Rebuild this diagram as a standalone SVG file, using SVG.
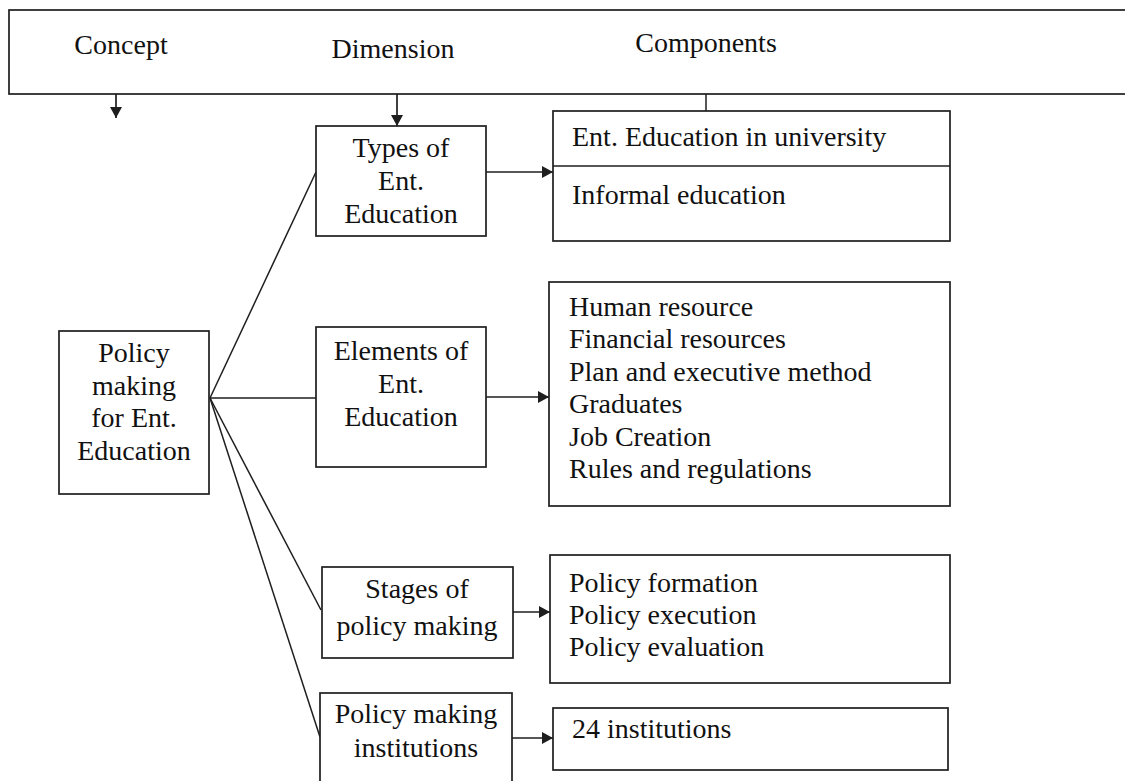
<svg xmlns="http://www.w3.org/2000/svg" width="1125" height="781" viewBox="0 0 1125 781">
<style>
  .box { fill: #ffffff; stroke: #1e1e1e; stroke-width: 1.7; }
  .ln { fill: none; stroke: #1e1e1e; stroke-width: 1.5; }
  .arr { fill: none; stroke: #1e1e1e; stroke-width: 1.7; marker-end: url(#ah); }
  text { font-family: "Liberation Serif", "Times New Roman", serif; font-size: 28px; fill: #111; }
  .c { text-anchor: middle; }
</style>
<defs>
  <marker id="ah" markerUnits="userSpaceOnUse" markerWidth="11" markerHeight="12" refX="11" refY="6" orient="auto">
    <path d="M0,0 L11,6 L0,12 z" fill="#1e1e1e"/>
  </marker>
</defs>
<rect width="1125" height="781" fill="#ffffff"/>

<g id="header">
  <rect class="box" x="9" y="10" width="1130" height="84"/>
  <text x="121" y="54" class="c">Concept</text>
  <text x="393" y="58" class="c">Dimension</text>
  <text x="706" y="52" class="c">Components</text>
</g>

<g id="connectors">
  <line class="arr" x1="116" y1="94" x2="116" y2="118"/>
  <line class="arr" x1="397" y1="94" x2="397" y2="126"/>
  <line class="ln" x1="706" y1="94" x2="706" y2="111"/>
  <line class="ln" x1="210" y1="398" x2="316" y2="172"/>
  <line class="ln" x1="210" y1="398" x2="316" y2="398"/>
  <line class="ln" x1="210" y1="398" x2="321" y2="610"/>
  <line class="ln" x1="210" y1="398" x2="320" y2="737"/>
  <line class="arr" x1="486" y1="172" x2="553" y2="172"/>
  <line class="arr" x1="486" y1="397" x2="549" y2="397"/>
  <line class="arr" x1="513" y1="612" x2="550" y2="612"/>
  <line class="arr" x1="512" y1="738" x2="553" y2="738"/>
</g>

<g id="policy">
  <rect class="box" x="59" y="331" width="150" height="163"/>
  <text x="134" y="362" class="c">Policy</text>
  <text x="134" y="394.5" class="c">making</text>
  <text x="134" y="427" class="c">for Ent.</text>
  <text x="134" y="459.5" class="c">Education</text>
</g>

<g id="types">
  <rect class="box" x="316" y="126" width="170" height="110"/>
  <text x="401" y="157" class="c">Types of</text>
  <text x="401" y="190" class="c">Ent.</text>
  <text x="401" y="223" class="c">Education</text>
</g>

<g id="elements">
  <rect class="box" x="316" y="327" width="170" height="140"/>
  <text x="401" y="360" class="c">Elements of</text>
  <text x="401" y="393" class="c">Ent.</text>
  <text x="401" y="426" class="c">Education</text>
</g>

<g id="stages">
  <rect class="box" x="322" y="567" width="191" height="91"/>
  <text x="417" y="598" class="c">Stages of</text>
  <text x="417" y="635" class="c">policy making</text>
</g>

<g id="institutions">
  <rect class="box" x="320" y="693" width="192" height="100"/>
  <text x="416" y="723" class="c">Policy making</text>
  <text x="416" y="757" class="c">institutions</text>
</g>

<g id="types-components">
  <rect class="box" x="553" y="111" width="397" height="130"/>
  <line class="ln" x1="553" y1="166" x2="950" y2="166"/>
  <text x="572" y="146">Ent. Education in university</text>
  <text x="572" y="204">Informal education</text>
</g>

<g id="elements-components">
  <rect class="box" x="549" y="282" width="401" height="224"/>
  <text x="569" y="315.5">Human resource</text>
  <text x="569" y="348">Financial  resources</text>
  <text x="569" y="380.5">Plan and executive method</text>
  <text x="569" y="413">Graduates</text>
  <text x="569" y="445.5">Job Creation</text>
  <text x="569" y="478">Rules and regulations</text>
</g>

<g id="stages-components">
  <rect class="box" x="550" y="555" width="400" height="128"/>
  <text x="569" y="592">Policy formation</text>
  <text x="569" y="624">Policy execution</text>
  <text x="569" y="656">Policy evaluation</text>
</g>

<g id="institutions-components">
  <rect class="box" x="553" y="708" width="395" height="62"/>
  <text x="572" y="738">24 institutions</text>
</g>
</svg>
